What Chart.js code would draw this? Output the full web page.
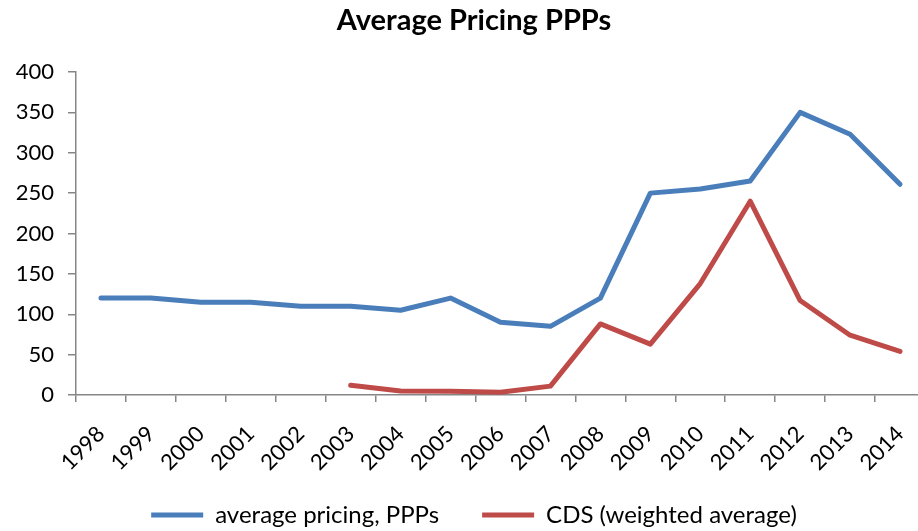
<!DOCTYPE html>
<html>
<head>
<meta charset="utf-8">
<script src="https://cdn.jsdelivr.net/npm/chart.js@4"></script>
<style>
  html, body { margin: 0; padding: 0; background: #fff; overflow: hidden; }
  #wrap { width: 918px; height: 531px; overflow: hidden; }
  canvas { display: block; }
</style>
</head>
<body>
<div id="wrap"><canvas id="pppChart" width="948" height="537"></canvas></div>
<script>
// ===== DATA =====
const years = ['1998', '1999', '2000', '2001', '2002', '2003', '2004', '2005', '2006',
    '2007', '2008', '2009', '2010', '2011', '2012', '2013', '2014'];
const avgPricing = [120, 120, 115, 115, 110, 110, 105, 120, 90, 85, 120, 250, 255, 265, 350, 323, 261];
const cdsWeighted = [null, null, null, null, null, 12, 5, 4.5, 3.5, 11, 88, 63, 138, 240, 117, 74, 54];
const yTicks = [0, 50, 100, 150, 200, 250, 300, 350, 400];

const axisGray = '#868686';
const FONT = 'Lato, "Open Sans", sans-serif';

// let tick labels run past their scale boxes (the boxes are kept tight so
// the plot area and legend land where the original has them)
const noLabelClip = {
    id: 'noLabelClip',
    afterLayout(chart) {
        chart.scales.x._computeLabelArea = () => undefined;
        chart.scales.y._computeLabelArea = () => undefined;
    }
};

// the original chart is a bit wider than the picture, so the canvas is
// larger than the window and cropped by #wrap
new Chart(document.getElementById('pppChart'), {
    type: 'line',
    data: {
        labels: years,
        datasets: [{
            label: 'average pricing, PPPs',
            data: avgPricing,
            borderColor: '#4a7ebb',
            backgroundColor: '#4a7ebb',
            borderWidth: 5,
            borderCapStyle: 'round',
            borderJoinStyle: 'round',
            pointRadius: 0,
            tension: 0,
        }, {
            label: 'CDS (weighted average)',
            data: cdsWeighted,
            borderColor: '#be4b48',
            backgroundColor: '#be4b48',
            borderWidth: 5,
            borderCapStyle: 'round',
            borderJoinStyle: 'round',
            pointRadius: 0,
            tension: 0,
        }]
    },
    plugins: [noLabelClip],
    options: {
        responsive: false,
        animation: false,
        layout: { padding: { left: 23, right: 23, top: 0, bottom: 0 } },
        plugins: {
            title: {
                display: true,
                text: 'Average Pricing PPPs',
                color: '#000',
                font: { family: FONT, size: 29, weight: 'bold' },
                padding: { top: 3, bottom: 34.2 }
            },
            legend: {
                position: 'bottom',
                labels: {
                    color: '#000',
                    font: { family: FONT, size: 24 },
                    usePointStyle: true,
                    pointStyle: 'line',
                    pointStyleWidth: 52,
                    padding: 43,
                    boxHeight: 10
                }
            },
            tooltip: { enabled: false }
        },
        scales: {
            x: {
                offset: true,
                afterFit: s => { s.height = 65; },
                border: { color: axisGray, width: 1.5 },
                grid: { display: true, drawOnChartArea: false, tickLength: 7, color: axisGray, lineWidth: 1.5, offset: true },
                ticks: {
                    color: '#000',
                    font: { family: FONT, size: 22 },
                    minRotation: 45,
                    maxRotation: 45,
                    padding: 19
                }
            },
            y: {
                min: 0,
                max: 400,
                afterFit: s => { s.width = 53; },
                afterBuildTicks: s => { s.ticks = yTicks.map(v => ({ value: v })); },
                border: { color: axisGray, width: 1.5 },
                grid: { display: true, drawOnChartArea: false, tickLength: 8, color: axisGray, lineWidth: 1.5 },
                ticks: {
                    color: '#000',
                    font: { family: FONT, size: 22 },
                    padding: 14
                }
            }
        }
    }
});
</script>
</body>
</html>
